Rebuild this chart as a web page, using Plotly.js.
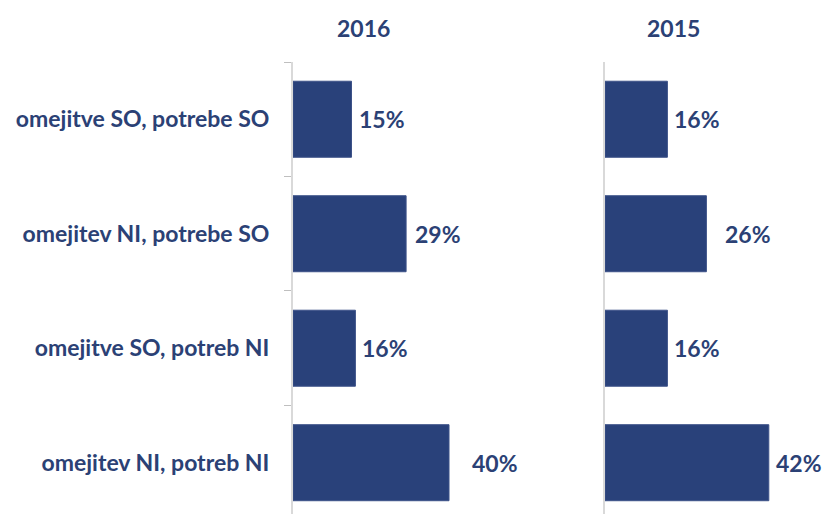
<!DOCTYPE html>
<html>
<head>
<meta charset="utf-8">
<script src="https://cdn.plot.ly/plotly-3.0.1.min.js"></script>
<style>html,body{margin:0;padding:0;background:#fff;}#chart{width:824px;height:514px;}</style>
</head>
<body>
<div id="chart"></div>
<script>
const categories = ["omejitve SO, potrebe SO", "omejitev NI, potrebe SO", "omejitve SO, potreb NI", "omejitev NI, potreb NI"];
const values2016 = [15, 29, 16, 40];
const values2015 = [16, 26, 16, 42];
const panelTitles = ["2016", "2015"];

// style: horizontal gap (px) between bar end and its value label
const labelGap2016 = [6, 8, 6, 22];
const labelGap2015 = [6, 18, 6, 6];

const barColor = "#29417a";
const textColor = "#2b4175";
const fontFam = "Lato, 'Open Sans', sans-serif";
const fs = 23;
const pct = v => v + "%";

const W = 824, H = 514;
const barTrace = (vals, xa, ya) => ({type: "bar", orientation: "h", y: categories, x: vals, xaxis: xa, yaxis: ya,
   marker: {color: barColor, line: {color: "#3d5288", width: 1}}, width: 0.664, hoverinfo: "none"});
const traces = [barTrace(values2016, "x", "y"), barTrace(values2015, "x2", "y2")];

const yCommon = {type: "category", categoryorder: "array", categoryarray: categories,
  range: [3.448, -0.5], showline: true, linecolor: "#d9d9d9", linewidth: 2, showgrid: false, zeroline: false};

const valueAnn = (vals, gaps, xr, yr) => vals.map((v, i) => ({
  text: pct(v), x: v, y: categories[i], xref: xr, yref: yr, xanchor: "left", yanchor: "middle",
  xshift: gaps[i], borderpad: 0, showarrow: false, font: {family: fontFam, size: fs, color: textColor, weight: 700}}));

const layout = {
  width: W, height: H,
  margin: {l: 0, r: 0, t: 62, b: 0},
  paper_bgcolor: "#fff", plot_bgcolor: "#fff",
  showlegend: false,
  font: {family: fontFam, color: textColor},
  xaxis: {domain: [293/W, 540/W], range: [0, (540-293)/3.9], visible: false, fixedrange: true},
  xaxis2: {domain: [605/W, 1], range: [0, (824-605)/3.9], visible: false, fixedrange: true},
  yaxis: Object.assign({}, yCommon, {anchor: "x", ticks: "outside", tickson: "boundaries", ticklen: 7,
    tickcolor: "#bfbfbf", tickwidth: 1, ticklabelstandoff: 17,
    tickfont: {family: fontFam, size: fs, color: textColor, weight: 700}}),
  yaxis2: Object.assign({}, yCommon, {anchor: "x2", ticks: "", showticklabels: false}),
  annotations: [
    {text: panelTitles[0], xref: "paper", yref: "paper", x: 363/W, y: 1 + 34/452, xanchor: "center", yanchor: "middle",
     showarrow: false, font: {family: fontFam, size: fs, color: textColor, weight: 700}},
    {text: panelTitles[1], xref: "paper", yref: "paper", x: 673/W, y: 1 + 34/452, xanchor: "center", yanchor: "middle",
     showarrow: false, font: {family: fontFam, size: fs, color: textColor, weight: 700}}
  ].concat(valueAnn(values2016, labelGap2016, "x", "y"), valueAnn(values2015, labelGap2015, "x2", "y2"))
};
Plotly.newPlot("chart", traces, layout, {staticPlot: true, displayModeBar: false});
</script>
</body>
</html>
